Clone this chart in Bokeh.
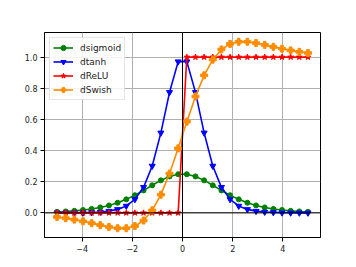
from bokeh.plotting import figure
from bokeh.models import Span, FixedTicker, PrintfTickFormatter, Range1d, Legend
from bokeh.embed import file_html
from bokeh.resources import INLINE

x = [-5.000, -4.655, -4.310, -3.966, -3.621, -3.276, -2.931, -2.586, -2.241, -1.897,
     -1.552, -1.207, -0.862, -0.517, -0.172, 0.172, 0.517, 0.862, 1.207, 1.552,
     1.897, 2.241, 2.586, 2.931, 3.276, 3.621, 3.966, 4.310, 4.655, 5.000]

dsigmoid = [0.0067, 0.0093, 0.0131, 0.0183, 0.0254, 0.0351, 0.0480, 0.0651, 0.0869, 0.1134,
            0.1443, 0.1772, 0.2088, 0.2340, 0.2482, 0.2482, 0.2340, 0.2088, 0.1772, 0.1443,
            0.1134, 0.0869, 0.0651, 0.0480, 0.0351, 0.0254, 0.0183, 0.0131, 0.0093, 0.0067]

dtanh = [0.0002, 0.0004, 0.0007, 0.0014, 0.0029, 0.0057, 0.0114, 0.0225, 0.0443, 0.0866,
         0.1641, 0.3011, 0.5139, 0.7741, 0.9710, 0.9710, 0.7741, 0.5139, 0.3011, 0.1641,
         0.0866, 0.0443, 0.0225, 0.0114, 0.0057, 0.0029, 0.0014, 0.0007, 0.0004, 0.0002]

drelu = [0, 0, 0, 0, 0, 0, 0, 0, 0, 0, 0, 0, 0, 0, 0,
         1, 1, 1, 1, 1, 1, 1, 1, 1, 1, 1, 1, 1, 1, 1]

dswish = [-0.0266, -0.0340, -0.0431, -0.0540, -0.0659, -0.0786, -0.0901, -0.0983, -0.0985, -0.0847,
          -0.0491, 0.0163, 0.1169, 0.2525, 0.4144, 0.5856, 0.7475, 0.8831, 0.9837, 1.0491,
          1.0847, 1.0985, 1.0983, 1.0901, 1.0786, 1.0659, 1.0540, 1.0431, 1.0340, 1.0266]

x_ticks = [-4, -2, 0, 2, 4]
x_tick_labels = ["\u22124", "\u22122", "0", "2", "4"]
y_ticks = [0.0, 0.2, 0.4, 0.6, 0.8, 1.0]

FONT = "DejaVu Sans"

p = figure(width=348, height=259, output_backend="svg", toolbar_location=None,
           x_range=Range1d(-5.5, 5.5), y_range=Range1d(-0.158, 1.158),
           min_border_left=44, min_border_right=28, min_border_top=32, min_border_bottom=22)

p.background_fill_color = "white"
p.border_fill_color = "white"
p.outline_line_color = "black"
p.outline_line_width = 1

p.xaxis.ticker = FixedTicker(ticks=x_ticks)
p.xaxis.major_label_overrides = {t: l for t, l in zip(x_ticks, x_tick_labels)}
p.yaxis.ticker = FixedTicker(ticks=y_ticks)
p.yaxis.formatter = PrintfTickFormatter(format="%.1f")

for ax in [p.xaxis[0], p.yaxis[0]]:
    ax.axis_line_color = "black"
    ax.axis_line_width = 1
    ax.major_tick_out = 4
    ax.major_tick_in = 0
    ax.minor_tick_line_color = None
    ax.major_label_text_font = FONT
    ax.major_label_text_font_size = "8px"
    ax.major_label_text_color = "#222222"
    ax.major_label_standoff = 3

p.xgrid.ticker = FixedTicker(ticks=x_ticks)
p.ygrid.ticker = FixedTicker(ticks=y_ticks)
p.grid.grid_line_color = "#b0b0b0"
p.grid.grid_line_width = 1

series = [
    ("dsigmoid", dsigmoid, "#008000", "circle", 5),
    ("dtanh", dtanh, "#0000ff", "inverted_triangle", 6),
    ("dReLU", drelu, "#ff0000", "star", 6),
    ("dSwish", dswish, "#ff8c00", "plus", 7),
]

items = []
for name, ys, color, marker, size in series:
    r1 = p.line(x, ys, line_color=color, line_width=1.6)
    r2 = p.scatter(x, ys, marker=marker, size=size, fill_color=color, line_color=color)
    items.append((name, [r1, r2]))

p.add_layout(Span(location=0, dimension="width", line_color="black", line_width=1))
p.add_layout(Span(location=0, dimension="height", line_color="black", line_width=1))

legend = Legend(items=items, location="top_left")
legend.label_text_font = FONT
legend.label_text_font_size = "9px"
legend.label_text_color = "#222222"
legend.border_line_color = "#cccccc"
legend.border_line_width = 1
legend.background_fill_alpha = 0.85
legend.padding = 3
legend.spacing = 1
legend.margin = 5
legend.glyph_width = 20
legend.glyph_height = 13
legend.label_height = 13
legend.label_standoff = 7
p.add_layout(legend)

open("out.html", "w").write(file_html(p, INLINE))
